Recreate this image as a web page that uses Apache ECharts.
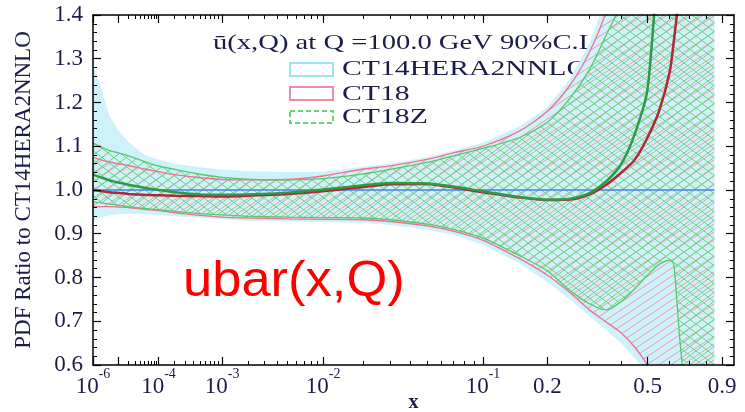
<!DOCTYPE html>
<html><head><meta charset="utf-8">
<script src="https://cdn.jsdelivr.net/npm/echarts@6/dist/echarts.min.js"></script>
<style>html,body{margin:0;padding:0;background:#fff}#c{width:745px;height:412px}</style>
</head><body><div id="c"></div>
<script>
// x grid (momentum fraction)
const xs = [1e-6, 2e-6, 5e-6, 1e-5, 2e-5, 5e-5, 1e-4, 2e-4, 5e-4, 1e-3, 2e-3, 5e-3, 0.01, 0.02, 0.03, 0.05, 0.07, 0.1, 0.15, 0.2, 0.25, 0.3, 0.35, 0.4, 0.45, 0.5, 0.55, 0.6, 0.62, 0.65, 0.7, 0.75, 0.8, 0.85];
// CT14HERA2NNLO band (ratio to itself)
const ct14Up = [1.29, 1.245, 1.17, 1.135, 1.11, 1.08, 1.07, 1.06, 1.052, 1.047, 1.043, 1.041, 1.042, 1.053, 1.06, 1.075, 1.09, 1.108, 1.145, 1.19, 1.255, 1.335, 1.44, 1.6, 1.8, 2.0, 2.2, 2.4, 2.5, 2.6, 2.8, 3.0, 3.2, 3.4];
const ct14Lo = [0.93, 0.937, 0.942, 0.945, 0.946, 0.945, 0.943, 0.94, 0.936, 0.933, 0.93, 0.928, 0.927, 0.925, 0.92, 0.91, 0.898, 0.875, 0.832, 0.79, 0.75, 0.712, 0.68, 0.65, 0.615, 0.575, 0.5, 0.4, 0.35, 0.3, 0.2, 0.1, 0.0, -0.1];
const ct14MidX = [1e-6, 0.85];
const ct14Mid = [1.0, 1.0];
// CT18
const ct18Up = [1.075, 1.07, 1.064, 1.06, 1.056, 1.048, 1.042, 1.035, 1.028, 1.024, 1.023, 1.024, 1.032, 1.048, 1.055, 1.07, 1.085, 1.10, 1.135, 1.18, 1.24, 1.315, 1.41, 1.55, 1.7, 1.9, 2.1, 2.3, 2.4, 2.5, 2.7, 2.9, 3.1, 3.3];
const ct18Lo = [0.962, 0.962, 0.962, 0.961, 0.96, 0.956, 0.953, 0.948, 0.942, 0.938, 0.936, 0.934, 0.933, 0.932, 0.928, 0.918, 0.906, 0.885, 0.843, 0.805, 0.765, 0.726, 0.698, 0.673, 0.64, 0.598, 0.52, 0.42, 0.37, 0.32, 0.22, 0.12, 0.02, -0.08];
const ct18Mid = [1.0, 0.998, 0.995, 0.993, 0.991, 0.989, 0.988, 0.987, 0.986, 0.985, 0.987, 0.991, 0.997, 1.007, 1.013, 1.014, 1.006, 0.995, 0.983, 0.977, 0.978, 0.99, 1.012, 1.04, 1.07, 1.12, 1.18, 1.27, 1.34, 1.46, 1.7, 2.0, 2.3, 2.6];
// CT18Z
const ct18zUp = [1.107, 1.10, 1.09, 1.085, 1.078, 1.065, 1.055, 1.047, 1.036, 1.029, 1.025, 1.023, 1.026, 1.037, 1.047, 1.063, 1.078, 1.095, 1.12, 1.155, 1.21, 1.275, 1.355, 1.43, 1.6, 1.8, 2.0, 2.2, 2.3, 2.4, 2.6, 2.8, 3.0, 3.2];
const ct18zLo = [0.973, 0.971, 0.968, 0.965, 0.962, 0.958, 0.955, 0.951, 0.946, 0.943, 0.94, 0.938, 0.937, 0.936, 0.932, 0.922, 0.91, 0.89, 0.85, 0.815, 0.77, 0.74, 0.726, 0.745, 0.775, 0.805, 0.83, 0.84, 0.83, 0.66, 0.45, 0.3, 0.2, 0.1];
const ct18zMid = [1.035, 1.03, 1.022, 1.017, 1.012, 1.005, 1.0, 0.995, 0.99, 0.989, 0.99, 0.994, 1.001, 1.011, 1.016, 1.015, 1.008, 0.997, 0.984, 0.978, 0.98, 0.993, 1.02, 1.06, 1.13, 1.23, 1.55, 1.8, 1.9, 2.1, 2.4, 2.7, 3.0, 3.3];
// tick labels
const xTickVals = [1e-6, 1e-4, 1e-3, 1e-2, 0.1, 0.2, 0.5, 0.9];
const xTickBase = ['10', '10', '10', '10', '10', '0.2', '0.5', '0.9'];
const xTickExp = ['-6', '-4', '-3', '-2', '-1', '', '', ''];
const xMajor = [1e-6, 1e-5, 1e-4, 1e-3, 1e-2, 0.1, 0.2, 0.5, 0.9];
const xMinorLarge = [0.3, 0.4, 0.6, 0.7, 0.8];
const legendNames = ['CT14HERA2NNLO', 'CT18', 'CT18Z'];
const titleText = '\u016b(x,Q) at Q =100.0 GeV 90%C.L.';
const yName = 'PDF Ratio to CT14HERA2NNLO';
const xName = 'x';
const tagText = 'ubar(x,Q)';

// axis transform: x^0.2
const T = x => Math.pow(x, 0.2);
const xMinor = [];
[1e-5, 1e-4, 1e-3, 1e-2].forEach(d => { for (let k = 2; k <= 9; k++) xMinor.push(k * d); });
xMinorLarge.forEach(v => xMinor.push(v));

function hatch(w, h, color, both, shift) {
  const c = document.createElement('canvas');
  c.width = w; c.height = h;
  const g = c.getContext('2d');
  g.strokeStyle = color; g.lineWidth = 1;
  g.beginPath();
  for (const dx of [-w, 0, w]) {
    g.moveTo(dx + shift, h); g.lineTo(dx + shift + w, 0);
    if (both) { g.moveTo(dx, 0); g.lineTo(dx + w, h); }
  }
  g.stroke();
  return c;
}
const pinkPat = { image: hatch(12, 8, '#f295b2', false, 6), repeat: 'repeat' };
const greenPat = { image: hatch(12, 9, '#6fd27f', true, 0), repeat: 'repeat' };

function clipEdge(pts, inside, inter) {
  const out = [];
  const n = pts.length;
  for (let i = 0; i < n; i++) {
    const cur = pts[i], prev = pts[(i + n - 1) % n];
    if (inside(cur)) { if (!inside(prev)) out.push(inter(prev, cur)); out.push(cur); }
    else if (inside(prev)) out.push(inter(prev, cur));
  }
  return out;
}
function clipRect(pts, r) {
  const ix = (a, b, x) => { const t = (x - a[0]) / (b[0] - a[0]); return [x, a[1] + t * (b[1] - a[1])]; };
  const iy = (a, b, y) => { const t = (y - a[1]) / (b[1] - a[1]); return [a[0] + t * (b[0] - a[0]), y]; };
  let p = pts;
  p = clipEdge(p, q => q[0] >= r.x, (a, b) => ix(a, b, r.x));
  p = clipEdge(p, q => q[0] <= r.x + r.width, (a, b) => ix(a, b, r.x + r.width));
  p = clipEdge(p, q => q[1] >= r.y, (a, b) => iy(a, b, r.y));
  p = clipEdge(p, q => q[1] <= r.y + r.height, (a, b) => iy(a, b, r.y + r.height));
  return p;
}
function band(name, up, lo, fill, z) {
  return {
    type: 'custom', name, z, silent: true, animation: false,
    data: [[T(xs[0]), 1]],
    renderItem: (params, api) => {
      const pts = [];
      for (let i = 0; i < xs.length; i++) pts.push(api.coord([T(xs[i]), up[i]]));
      for (let i = xs.length - 1; i >= 0; i--) pts.push(api.coord([T(xs[i]), lo[i]]));
      const cs = params.coordSys;
      return { type: 'polygon', shape: { points: clipRect(pts, cs) }, style: { fill: fill, stroke: null } };
    }
  };
}
function line(xv, arr, color, width, z) {
  return {
    type: 'line', data: xv.map((x, i) => [T(x), arr[i]]), showSymbol: false, symbol: 'none',
    smooth: 0.25, lineStyle: { color, width }, z, silent: true, animation: false, clip: true
  };
}

const txtColor = '#1c1c48';
const serif = '"Liberation Serif", "Times New Roman", serif';
const xCommon = { type: 'value', min: T(1e-6), max: 0.9965, z: 10, splitLine: { show: false } };
const axLine = { show: true, onZero: false, lineStyle: { color: '#000', width: 1.5 } };
const majTick = { show: true, inside: true, length: 8, customValues: xMajor.map(T), lineStyle: { color: '#000', width: 1.2 } };
const minTick = { show: true, inside: true, length: 4, customValues: xMinor.map(T), lineStyle: { color: '#000', width: 1 } };

const chart = echarts.init(document.getElementById('c'));
chart.setOption({
  animation: false,
  backgroundColor: '#fff',
  grid: { left: 93, right: 11, top: 15, bottom: 47, containLabel: false, outerBoundsMode: 'none' },
  xAxis: [
    Object.assign({}, xCommon, {
      position: 'bottom', axisLine: axLine, axisTick: majTick,
      axisLabel: {
        show: true, margin: 2, customValues: xTickVals.map(T),
        formatter: (v) => {
          for (let i = 0; i < xTickVals.length; i++) {
            if (Math.abs(T(xTickVals[i]) - v) < 1e-6) return '{b|' + xTickBase[i] + '}' + (xTickExp[i] ? '{s|' + xTickExp[i] + '}' : '');
          }
          return '';
        },
        rich: {
          b: { fontFamily: serif, fontSize: 23, color: txtColor, lineHeight: 22, padding: [8, 0, 0, 0], verticalAlign: 'top' },
          s: { fontFamily: serif, fontSize: 14, color: txtColor, lineHeight: 14, verticalAlign: 'top' }
        }
      },
      name: xName, nameLocation: 'middle', nameGap: 28, nameMoveOverlap: false,
      nameTextStyle: { fontFamily: serif, fontSize: 20, fontWeight: 'bold', color: txtColor }
    }),
    Object.assign({}, xCommon, { position: 'bottom', axisLine: { show: false }, axisTick: minTick, axisLabel: { show: false } }),
    Object.assign({}, xCommon, { position: 'top', axisLine: axLine, axisTick: majTick, axisLabel: { show: false } }),
    Object.assign({}, xCommon, { position: 'top', axisLine: { show: false }, axisTick: minTick, axisLabel: { show: false } })
  ],
  yAxis: [
    {
      type: 'value', min: 0.6, max: 1.4, interval: 0.1, position: 'left', z: 10,
      axisLine: axLine,
      axisTick: { show: true, inside: true, length: 8, lineStyle: { color: '#000', width: 1.2 } },
      minorTick: { show: true, splitNumber: 5, length: 4, lineStyle: { color: '#000', width: 1 } },
      splitLine: { show: false }, minorSplitLine: { show: false },
      axisLabel: { formatter: v => v.toFixed(1), fontFamily: serif, fontSize: 23, color: txtColor, margin: 10 },
      name: yName, nameLocation: 'middle', nameGap: 58, nameMoveOverlap: false,
      nameTextStyle: { fontFamily: serif, fontSize: 23, color: txtColor }
    },
    {
      type: 'value', min: 0.6, max: 1.4, interval: 0.1, position: 'right', z: 10,
      axisLine: axLine,
      axisTick: { show: true, inside: true, length: 8, lineStyle: { color: '#000', width: 1.2 } },
      minorTick: { show: true, splitNumber: 5, length: 4, lineStyle: { color: '#000', width: 1 } },
      splitLine: { show: false }, minorSplitLine: { show: false },
      axisLabel: { show: false }
    }
  ],
  graphic: [
    { type: 'text', x: 213, y: 43, scaleX: 1.3, z: 1, style: { text: titleText, fill: txtColor, font: '22px ' + serif, textAlign: 'left', textVerticalAlign: 'middle' } },
    { type: 'rect', z: 1, shape: { x: 290, y: 63, width: 43, height: 13 }, style: { fill: '#fff', stroke: '#98e6f4', lineWidth: 2 } },
    { type: 'rect', z: 1, shape: { x: 290, y: 87, width: 43, height: 13 }, style: { fill: '#fff', stroke: '#f08aa8', lineWidth: 2 } },
    { type: 'rect', z: 1, shape: { x: 290, y: 111, width: 43, height: 12 }, style: { fill: '#fff', stroke: '#6cd07c', lineWidth: 2, lineDash: [5, 3] } },
    { type: 'text', x: 342, y: 69, scaleX: 1.35, z: 1, style: { text: legendNames[0], fill: txtColor, font: '22px ' + serif, textAlign: 'left', textVerticalAlign: 'middle' } },
    { type: 'text', x: 342, y: 94, scaleX: 1.35, z: 1, style: { text: legendNames[1], fill: txtColor, font: '22px ' + serif, textAlign: 'left', textVerticalAlign: 'middle' } },
    { type: 'text', x: 342, y: 117, scaleX: 1.35, z: 1, style: { text: legendNames[2], fill: txtColor, font: '22px ' + serif, textAlign: 'left', textVerticalAlign: 'middle' } },
    { type: 'text', x: 183, y: 282, scaleX: 1.05, z: 20, style: { text: tagText, fill: '#ff0000', font: '50px "Liberation Sans", Arial, sans-serif', textAlign: 'left', textVerticalAlign: 'middle' } }
  ],
  series: [
    band(legendNames[0], ct14Up, ct14Lo, '#cdf2f9', 2),
    band(legendNames[1], ct18Up, ct18Lo, pinkPat, 3),
    band(legendNames[2], ct18zUp, ct18zLo, greenPat, 4),
    line(ct14MidX, ct14Mid, '#3f86ea', 1.5, 5),
    line(xs, ct18Up, '#ee7391', 1.3, 6),
    line(xs, ct18Lo, '#ee7391', 1.3, 6),
    line(xs, ct18zUp, '#58c96a', 1.3, 7),
    line(xs, ct18zLo, '#58c96a', 1.3, 7),
    line(xs, ct18Mid, '#b02838', 2.5, 8),
    line(xs, ct18zMid, '#2f9a46', 2.5, 9)
  ]
});
</script></body></html>
